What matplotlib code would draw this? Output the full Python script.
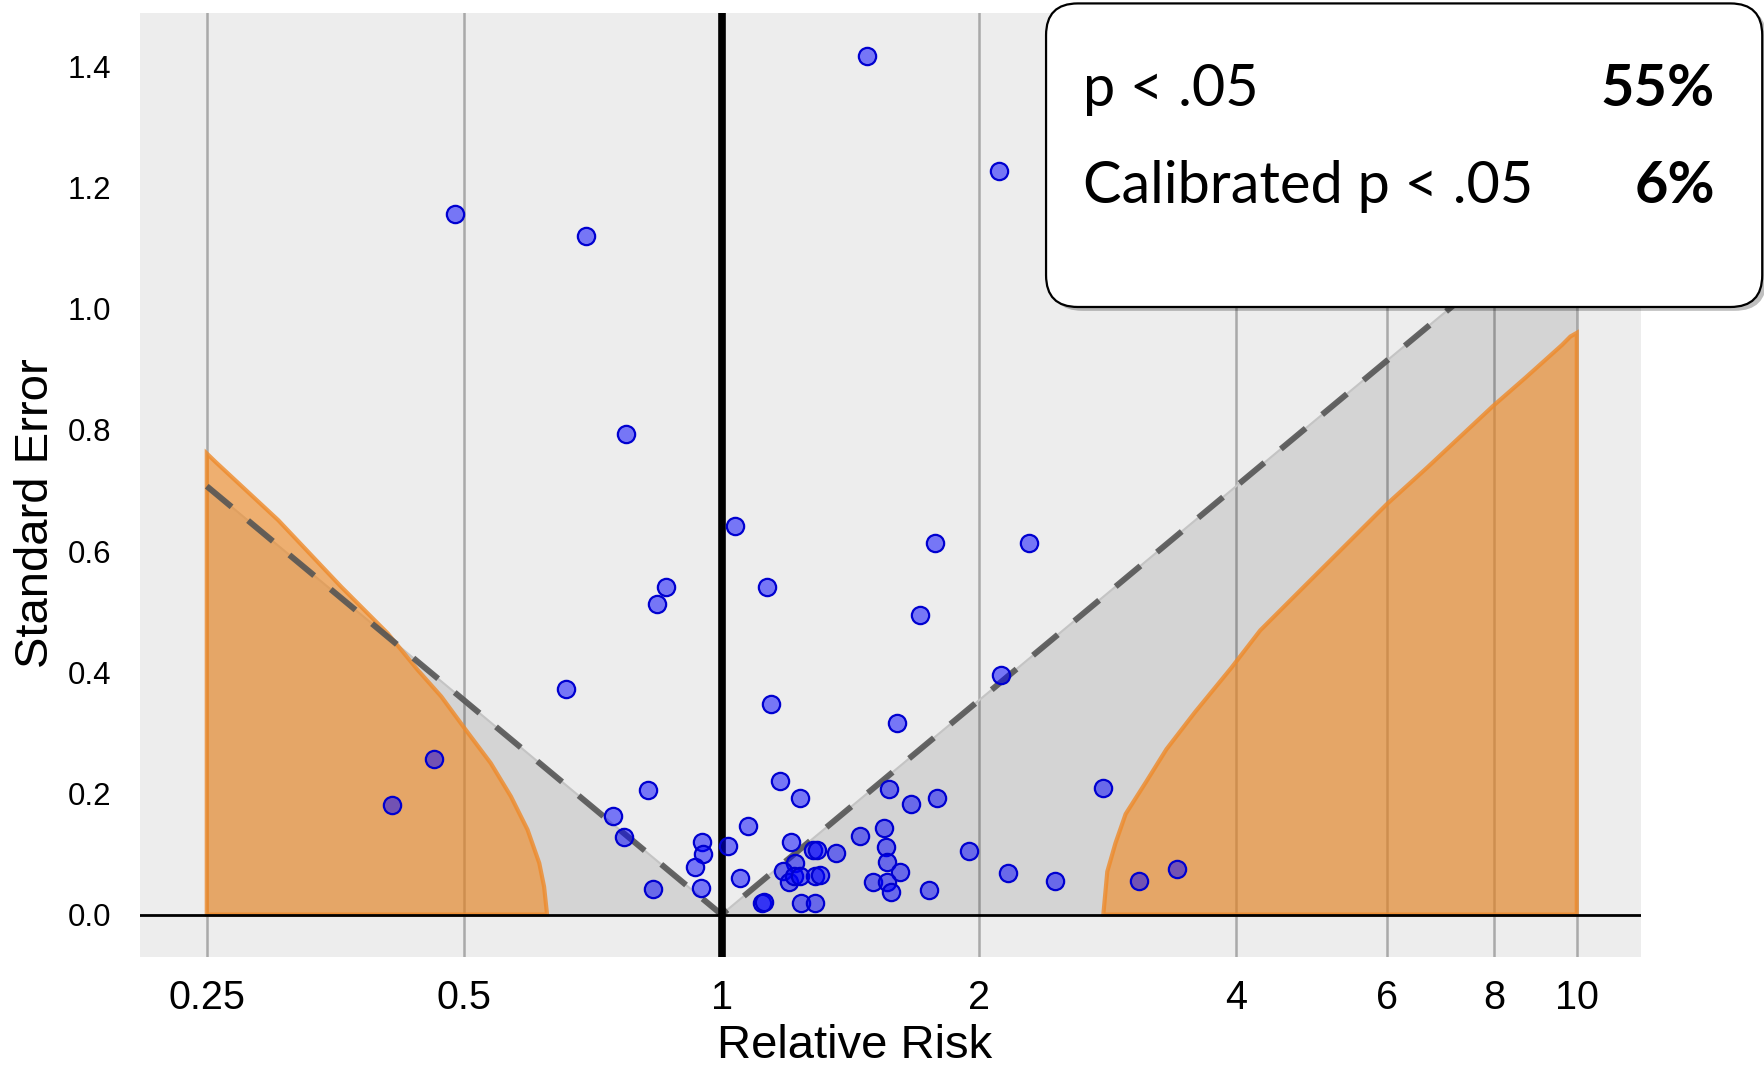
import matplotlib.pyplot as plt
import matplotlib.ticker as ticker
from matplotlib.patches import FancyBboxPatch

#
# Data
#

# estimates (relative risk) and standard errors of the studies
rr = [1.48, 2.11, 0.488, 0.694, 0.774, 1.037, 1.774, 2.286, 0.862, 0.841, 1.129, 1.705,
      2.12, 0.658, 1.141, 1.603, 0.461, 0.412, 0.820, 1.169, 1.234, 1.570, 1.663, 1.786,
      2.795, 0.746, 0.769, 1.075, 0.949, 0.952, 0.932, 0.947, 0.832, 1.018, 1.052, 1.115,
      1.120, 1.206, 1.280, 1.292, 1.362, 1.451, 1.549, 1.555, 1.559, 1.616, 1.504, 1.559,
      1.576, 1.747, 1.945, 1.220, 1.179, 1.199, 1.215, 1.235, 1.285, 1.305, 1.237, 1.285,
      2.165, 2.456, 3.078, 3.412]
se = [1.417, 1.227, 1.157, 1.120, 0.793, 0.642, 0.614, 0.614, 0.541, 0.513, 0.541, 0.494,
      0.395, 0.373, 0.348, 0.316, 0.256, 0.181, 0.206, 0.221, 0.192, 0.208, 0.183, 0.192,
      0.209, 0.163, 0.128, 0.147, 0.120, 0.100, 0.078, 0.044, 0.042, 0.113, 0.060, 0.019,
      0.020, 0.119, 0.107, 0.106, 0.101, 0.129, 0.143, 0.112, 0.087, 0.071, 0.053, 0.053,
      0.037, 0.041, 0.105, 0.085, 0.072, 0.053, 0.063, 0.064, 0.064, 0.066, 0.019, 0.019,
      0.069, 0.055, 0.056, 0.075]

# traditional p < .05 boundary
sig_rr = [0.25, 1, 10]
sig_se = [0.707, 0, 1.175]

# calibrated p < .05 boundaries
cal_left_rr = [0.25, 0.256, 0.303, 0.359, 0.407, 0.441, 0.470, 0.502, 0.537, 0.567, 0.593,
               0.612, 0.620, 0.625]
cal_left_se = [0.761, 0.747, 0.651, 0.541, 0.464, 0.404, 0.360, 0.305, 0.250, 0.195, 0.140,
               0.085, 0.046, 0.0]
cal_right_rr = [2.795, 2.825, 2.888, 2.968, 3.136, 3.313, 3.577, 3.949, 4.264, 4.812, 5.993,
                6.688, 7.977, 8.71, 9.61, 9.83, 10]
cal_right_se = [0.0, 0.071, 0.118, 0.166, 0.219, 0.273, 0.334, 0.408, 0.469, 0.543, 0.677,
                0.738, 0.839, 0.886, 0.940, 0.954, 0.96]

x_ticks = [0.25, 0.5, 1, 2, 4, 6, 8, 10]
x_tick_labels = ["0.25", "0.5", "1", "2", "4", "6", "8", "10"]
y_ticks = [0.0, 0.2, 0.4, 0.6, 0.8, 1.0, 1.2, 1.4]

stats_labels = ["p < .05", "Calibrated p < .05"]
stats_values = ["55%", "6%"]

#
# Graph
#

plt.rcParams["font.family"] = ["Liberation Sans", "DejaVu Sans"]

fig = plt.figure(figsize=(17.64, 10.70), dpi=100)
ax = fig.add_axes([0.0791, 0.1056, 0.8512, 0.8823])
ax.set_facecolor("#ededed")
for s in ax.spines.values():
    s.set_visible(False)

ax.set_xscale("log")
ax.set_xlim(0.2086, 11.89)
ax.set_ylim(-0.070, 1.488)

# vertical grid lines only
for t in x_ticks:
    ax.axvline(t, color="#a9a9a9", lw=1.8, zorder=1)

# grey region: traditional significance
grey_x = [sig_rr[0]] + sig_rr + [sig_rr[-1]]
grey_y = [0] + sig_se + [0]
ax.fill(grey_x, grey_y, color="black", alpha=0.1, lw=0, zorder=2)
ax.plot(sig_rr, sig_se, color="#c4c4c4", lw=1.5, zorder=3)

# orange regions: calibrated significance
orange = "#f08a24"
lx = [cal_left_rr[0]] + cal_left_rr
ly = [0] + cal_left_se
ax.fill(lx, ly, facecolor=orange, alpha=0.62, lw=0, zorder=4)
ax.fill(lx, ly, facecolor="none", edgecolor="#ee8a2a", alpha=0.8, lw=3.0, zorder=4)
rx = cal_right_rr + [cal_right_rr[-1]]
ry = cal_right_se + [0]
ax.fill(rx, ry, facecolor=orange, alpha=0.62, lw=0, zorder=4)
ax.fill(rx, ry, facecolor="none", edgecolor="#ee8a2a", alpha=0.8, lw=3.0, zorder=4)

# dashed boundary
ax.plot(sig_rr, sig_se, color="#555555", lw=4.3, ls=(0, (5.4, 3.6)), alpha=0.9, zorder=5)

ax.axhline(0, color="black", lw=2.0, zorder=6)
ax.axvline(1, color="black", lw=5.5, zorder=6)

ax.scatter(rr, se, s=155, facecolor=(0, 0, 1, 0.5), edgecolor="#0000d0", linewidth=1.6,
           zorder=7)

ax.set_xticks(x_ticks)
ax.set_xticklabels(x_tick_labels)
ax.xaxis.set_minor_locator(ticker.NullLocator())
ax.set_yticks(y_ticks)
ax.yaxis.set_major_formatter(ticker.FormatStrFormatter("%.1f"))
ax.tick_params(axis="both", length=0)
ax.tick_params(axis="x", pad=16, labelsize=28.5)
ax.tick_params(axis="y", pad=20.5, labelsize=22.5)

ax.set_xlabel("Relative Risk", fontsize=34)
ax.set_ylabel("Standard Error", fontsize=34)
ax.xaxis.set_label_coords(0.4765, -0.094)
ax.xaxis.label.set_va("center")
ax.yaxis.set_label_coords(-0.0689, 0.4697)
ax.yaxis.label.set_va("center")

# summary box
shadow = FancyBboxPatch((0.5955, 0.7095), 0.406, 0.2837, transform=fig.transFigure,
                        boxstyle="round,pad=0,rounding_size=0.018", mutation_aspect=1764 / 1070,
                        facecolor="black", alpha=0.25, lw=0, zorder=9)
box = FancyBboxPatch((0.593, 0.7131), 0.406, 0.2837, transform=fig.transFigure,
                     boxstyle="round,pad=0,rounding_size=0.018", mutation_aspect=1764 / 1070,
                     facecolor="white", edgecolor="black", lw=1.6, zorder=10)
fig.patches.extend([shadow, box])

for i, (lab, val) in enumerate(zip(stats_labels, stats_values)):
    yb = 0.9010 - i * 0.0906
    fig.text(0.6140, yb, lab, fontsize=41.5, family="Lato", va="baseline", ha="left", zorder=11)
    fig.text(0.9722, yb, val, fontsize=41.5, family="Lato", fontweight="bold", va="baseline",
             ha="right", zorder=11)

fig.savefig("out.png", dpi=100)
